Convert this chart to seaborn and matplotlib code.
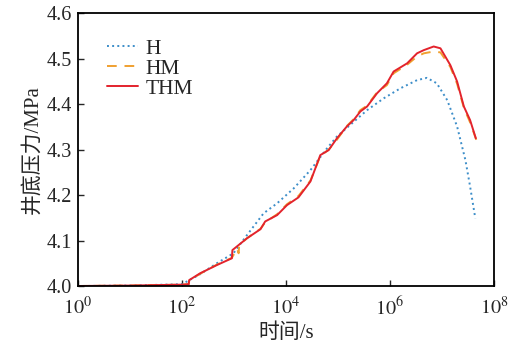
import numpy as np
import pandas as pd
import seaborn as sns
import matplotlib
matplotlib.use("Agg")
import matplotlib.pyplot as plt
from matplotlib.ticker import NullLocator

# data: log10(time/s) and bottom-hole pressure (MPa)
h_logt = [0.0, 1.0, 2.0, 2.35, 2.67, 2.99, 3.25, 3.57, 3.83, 4.15, 4.47, 4.79,
          4.98, 5.24, 5.56, 5.88, 6.2, 6.52, 6.71, 6.9, 7.1, 7.29, 7.45, 7.54, 7.64]
h_p = [4.0, 4.001, 4.004, 4.026, 4.05, 4.072, 4.112, 4.160, 4.182, 4.215, 4.255, 4.303,
       4.329, 4.355, 4.387, 4.413, 4.435, 4.453, 4.458, 4.446, 4.409, 4.351, 4.277, 4.219, 4.149]

thm_logt = [0.0, 1.0, 2.0, 2.13, 2.14, 2.35, 2.67, 2.96, 2.97, 3.25, 3.51, 3.60, 3.83,
            4.02, 4.24, 4.47, 4.66, 4.82, 4.98, 5.17, 5.30, 5.43, 5.56, 5.75, 5.94,
            6.07, 6.33, 6.52, 6.65, 6.84, 6.97, 7.16, 7.29, 7.42, 7.54, 7.65]
thm_p = [4.0, 4.001, 4.003, 4.004, 4.013, 4.028, 4.046, 4.061, 4.079, 4.105, 4.125, 4.142, 4.156,
         4.178, 4.195, 4.230, 4.288, 4.299, 4.325, 4.351, 4.365, 4.384, 4.395, 4.424, 4.446,
         4.472, 4.490, 4.512, 4.519, 4.527, 4.523, 4.486, 4.450, 4.395, 4.365, 4.325]

hm_logt = [0.0, 1.0, 2.0, 2.13, 2.14, 2.35, 2.67, 2.96, 3.06, 3.09, 3.10, 3.25, 3.51, 3.60, 3.83,
           4.02, 4.24, 4.47, 4.66, 4.82, 4.98, 5.17, 5.30, 5.43, 5.56, 5.75, 5.94,
           6.07, 6.33, 6.52, 6.65, 6.84, 6.97, 7.16, 7.29, 7.42, 7.54, 7.67]
hm_p = [4.0, 4.001, 4.003, 4.004, 4.012, 4.027, 4.047, 4.062, 4.082, 4.072, 4.090, 4.105, 4.126, 4.140, 4.158,
        4.180, 4.198, 4.232, 4.286, 4.300, 4.322, 4.352, 4.367, 4.387, 4.397, 4.426, 4.442,
        4.468, 4.487, 4.505, 4.512, 4.516, 4.514, 4.482, 4.445, 4.392, 4.360, 4.318]

series = [("H", h_logt, h_p, "#3d8ec9", ":"),
          ("HM", hm_logt, hm_p, "#f0a030", (0, (5, 4))),
          ("THM", thm_logt, thm_p, "#e3232c", "-")]

sns.set_style("ticks")
plt.rcParams['font.family'] = ['Liberation Serif', 'Noto Sans CJK SC']
plt.rcParams['mathtext.fontset'] = 'stix'

fig = plt.figure(figsize=(5.23, 3.45), dpi=100)
ax = fig.add_axes([0.149, 0.171, 0.7956, 0.7904])

for name, lt, p, c, ls in series:
    df = pd.DataFrame({"t": 10 ** np.array(lt), "p": p})
    sns.lineplot(data=df, x="t", y="p", ax=ax, color=c, linestyle=ls,
                 linewidth=1.4, sort=False, label=name, estimator=None)

ax.set_xscale("log")
ax.set_xlim(1, 1e8)
ax.set_ylim(4.0, 4.6)
ax.set_xticks([1, 1e2, 1e4, 1e6, 1e8])
ax.set_xticklabels([r"$10^{0}$", r"$10^{2}$", r"$10^{4}$", r"$10^{6}$", r"$10^{8}$"])
ax.xaxis.set_minor_locator(NullLocator())
ax.set_yticks([4.0, 4.1, 4.2, 4.3, 4.4, 4.5, 4.6])
ax.tick_params(direction="in", length=4, width=1)
ax.tick_params(axis="y", labelsize=14.5, pad=4)
ax.tick_params(axis="x", labelsize=14.5, pad=8)
for s in ax.spines.values():
    s.set_linewidth(1.3)
    s.set_color("black")

ax.set_xlabel("时间/s", fontsize=15, labelpad=2)
ax.set_ylabel("井底压力/MPa", fontsize=15, labelpad=3)

ax.legend(loc="upper left", bbox_to_anchor=(0.04, 0.955), frameon=False,
          fontsize=15.5, handlelength=1.4, handletextpad=0.35, labelspacing=0.0,
          borderaxespad=0.2)

fig.savefig("out.png", dpi=100)
